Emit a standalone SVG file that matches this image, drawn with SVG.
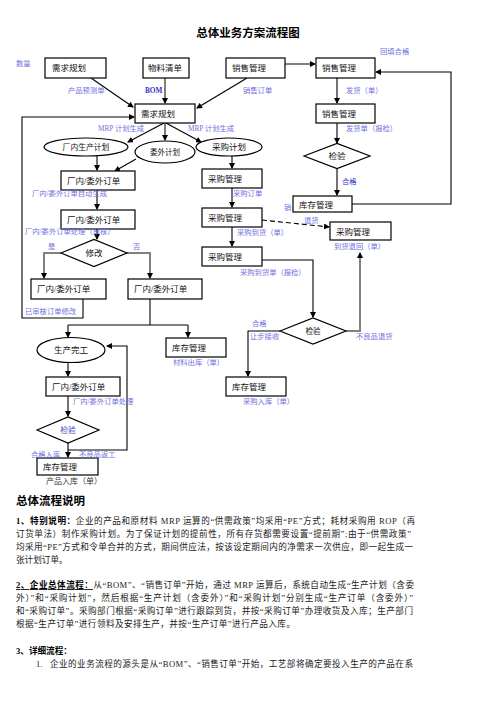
<svg xmlns="http://www.w3.org/2000/svg" width="496" height="702" viewBox="0 0 496 702">
<style>
text{font-family:"Liberation Serif","Noto Sans CJK SC",serif;}
.box{fill:#fff;stroke:#000;stroke-width:1.2;}
.nt{font-size:8.5px;fill:#111;}
.lb{font-size:7.3px;fill:#6f6fe0;}
.ln{fill:none;stroke:#000;stroke-width:1.1;}
.gl{fill:none;stroke:#808080;stroke-width:2;}
.ttl{font-size:11.5px;font-weight:bold;fill:#000;}
.p{font-size:8.6px;fill:#222;}
.b{font-weight:bold;fill:#000;}
</style>
<defs>
<marker id="a" markerWidth="6" markerHeight="6" refX="5" refY="3" orient="auto" markerUnits="userSpaceOnUse"><path d="M0,0 L6,3 L0,6 z" fill="#000"/></marker>
<marker id="g" markerWidth="6" markerHeight="6" refX="5" refY="3" orient="auto" markerUnits="userSpaceOnUse"><path d="M0,0 L6,3 L0,6 z" fill="#000"/></marker>
</defs>
<rect width="496" height="702" fill="#fff"/>
<text class="ttl" x="248" y="37" text-anchor="middle">总体业务方案流程图</text>

<g id="connectors">
<line class="ln" x1="91" y1="78" x2="133" y2="107" marker-end="url(#a)"/>
<line class="gl" x1="165" y1="78" x2="165" y2="103" marker-end="url(#g)"/>
<line class="ln" x1="247" y1="78" x2="197" y2="108" marker-end="url(#a)"/>
<line class="gl" x1="285" y1="64" x2="315" y2="64" marker-end="url(#g)"/>
<line class="ln" x1="337" y1="78" x2="337" y2="103" marker-end="url(#a)"/>
<line class="ln" x1="337" y1="123" x2="337" y2="143" marker-end="url(#a)"/>
<line class="ln" x1="337" y1="169" x2="337" y2="195" marker-end="url(#a)"/>
<polyline class="ln" points="352,204 451,204 451,72 376,72" marker-end="url(#a)"/>
<polyline class="ln" points="83,299 83,318 22,318 22,117 134,117" marker-end="url(#a)"/>
<line class="ln" x1="164" y1="123" x2="128" y2="142" marker-end="url(#a)"/>
<line class="gl" x1="165" y1="123" x2="165" y2="140" marker-end="url(#g)"/>
<line class="ln" x1="166" y1="123" x2="201" y2="142" marker-end="url(#a)"/>
<line class="ln" x1="97" y1="156" x2="97" y2="170" marker-end="url(#a)"/>
<line class="ln" x1="136" y1="159" x2="115" y2="171" marker-end="url(#a)"/>
<line class="ln" x1="232" y1="156" x2="232" y2="168" marker-end="url(#a)"/>
<line class="ln" x1="232" y1="188" x2="232" y2="207" marker-end="url(#a)"/>
<line class="ln" x1="97" y1="190" x2="97" y2="209" marker-end="url(#a)"/>
<line class="ln" x1="232" y1="227" x2="232" y2="246" marker-end="url(#a)"/>
<line class="ln" x1="262" y1="220" x2="329" y2="227" stroke-dasharray="5,3" marker-end="url(#a)"/>
<line class="ln" x1="97" y1="229" x2="97" y2="239" marker-end="url(#a)"/>
<polyline class="gl" points="61,253 44,253 44,278" marker-end="url(#g)"/>
<polyline class="gl" points="127,253 150,253 150,278" marker-end="url(#g)"/>
<polyline class="ln" points="262,260 313,260 313,317" marker-end="url(#a)"/>
<polyline class="ln" points="150,299 150,325"/>
<polyline class="ln" points="68,325 188,325"/>
<line class="ln" x1="68" y1="325" x2="68" y2="337" marker-end="url(#a)"/>
<line class="ln" x1="188" y1="325" x2="188" y2="337" marker-end="url(#a)"/>
<polyline class="ln" points="280,331 248,331 248,376" marker-end="url(#a)"/>
<polyline class="gl" points="346,331 360,331 360,253" marker-end="url(#g)"/>
<line class="ln" x1="68" y1="363" x2="68" y2="376" marker-end="url(#a)"/>
<line class="ln" x1="68" y1="396" x2="68" y2="416" marker-end="url(#a)"/>
<line class="ln" x1="68" y1="443" x2="68" y2="457" marker-end="url(#a)"/>
<polyline class="ln" points="68,450 127,450 127,346 107,346" marker-end="url(#a)"/>
</g>

<g id="n1"><rect class="box" x="45" y="58" width="61" height="20"/><text class="nt" x="52" y="71">需求规划</text></g>
<g id="n2"><rect class="box" x="143" y="58" width="46" height="20"/><text class="nt" x="148" y="71">物料清单</text></g>
<g id="n3"><rect class="box" x="226" y="58" width="59" height="20"/><text class="nt" x="232" y="71">销售管理</text></g>
<g id="n4"><rect class="box" x="316" y="58" width="59" height="20"/><text class="nt" x="322" y="71">销售管理</text></g>
<g id="n5"><rect class="box" x="135" y="104" width="60" height="19"/><text class="nt" x="141" y="117">需求规划</text></g>
<g id="n6"><rect class="box" x="316" y="104" width="59" height="19"/><text class="nt" x="322" y="117">销售管理</text></g>
<g id="n7"><polygon class="box" points="304,156 337,143.5 370,156 337,168.5"/><text class="nt" x="337" y="159" text-anchor="middle">检验</text></g>
<g id="n8"><ellipse class="box" cx="86" cy="147" rx="42" ry="9"/><text class="nt" x="86" y="150" text-anchor="middle" style="font-size:7.8px">厂内生产计划</text></g>
<g id="n9"><ellipse class="box" cx="165" cy="152" rx="30" ry="11"/><text class="nt" x="165" y="155" text-anchor="middle" style="font-size:7.5px">委外计划</text></g>
<g id="n10"><ellipse class="box" cx="229" cy="147" rx="33" ry="9"/><text class="nt" x="229" y="150" text-anchor="middle">采购计划</text></g>
<g id="n11"><rect class="box" x="61" y="171" width="74" height="19"/><text class="nt" x="67" y="184">厂内/委外订单</text></g>
<g id="n12"><rect class="box" x="202" y="169" width="60" height="19"/><text class="nt" x="208" y="182">采购管理</text></g>
<g id="n13"><rect class="box" x="293" y="196" width="59" height="16"/><text class="nt" x="299" y="207.5">库存管理</text></g>
<g id="n14"><rect class="box" x="61" y="210" width="74" height="19"/><text class="nt" x="67" y="223">厂内/委外订单</text></g>
<g id="n15"><rect class="box" x="202" y="208" width="60" height="19"/><text class="nt" x="208" y="221">采购管理</text></g>
<g id="n16"><rect class="box" x="330" y="222" width="61" height="18"/><text class="nt" x="336" y="234.5">采购管理</text></g>
<g id="n17"><polygon class="box" points="61,253 94,239.5 127,253 94,266.5"/><text class="nt" x="94" y="256" text-anchor="middle">修改</text></g>
<g id="n18"><rect class="box" x="202" y="247" width="60" height="19"/><text class="nt" x="208" y="260">采购管理</text></g>
<g id="n19"><rect class="box" x="31" y="279" width="75" height="20"/><text class="nt" x="37" y="292">厂内/委外订单</text></g>
<g id="n20"><rect class="box" x="128" y="279" width="74" height="20"/><text class="nt" x="134" y="292">厂内/委外订单</text></g>
<g id="n21"><polygon class="box" points="280,331 313,318 346,331 313,344"/><text class="nt" x="313" y="334" text-anchor="middle" style="font-size:7.5px">检验</text></g>
<g id="n22"><ellipse class="box" cx="71" cy="350" rx="34" ry="12.5"/><text class="nt" x="71" y="353" text-anchor="middle">生产完工</text></g>
<g id="n23"><rect class="box" x="166" y="338" width="60" height="19"/><text class="nt" x="172" y="351">库存管理</text></g>
<g id="n24"><rect class="box" x="46" y="377" width="74" height="19"/><text class="nt" x="52" y="390">厂内/委外订单</text></g>
<g id="n25"><rect class="box" x="226" y="377" width="60" height="19"/><text class="nt" x="232" y="390">库存管理</text></g>
<g id="n26"><polygon class="box" points="37,430 68,417 99,430 68,443"/><text class="nt" x="68" y="433" text-anchor="middle" style="fill:#4444cc;font-size:7.8px">检验</text></g>
<g id="n27"><rect class="box" x="37" y="458" width="61" height="17"/><text class="nt" x="43" y="470">库存管理</text></g>

<g id="labels">
<text class="lb" x="16" y="66">数量</text>
<text class="lb" x="68" y="93">产品预测单</text>
<text class="lb" x="145" y="93" style="fill:#3333cc;font-weight:bold">BOM</text>
<text class="lb" x="243" y="93">销售订单</text>
<text class="lb" x="380" y="54">回填合格</text>
<text class="lb" x="346" y="93">发货（单）</text>
<text class="lb" x="98" y="131">MRP 计划生成</text>
<text class="lb" x="188" y="131">MRP 计划生成</text>
<text class="lb" x="346" y="131">发货单（报检）</text>
<text class="lb" x="342" y="184" style="fill:#3333cc">合格</text>
<text class="lb" x="32" y="196">厂内/委外订单自动生成</text>
<text class="lb" x="233" y="196">采购订单</text>
<text class="lb" x="284" y="210">销</text>
<text class="lb" x="304" y="223">退货</text>
<text class="lb" x="237" y="235">采购到货（单）</text>
<text class="lb" x="25" y="234">厂内/委外订单处理（审核）</text>
<text class="lb" x="334" y="249">到货退回（单）</text>
<text class="lb" x="48" y="249">是</text>
<text class="lb" x="133" y="249">否</text>
<text class="lb" x="240" y="275">采购到货单（报检）</text>
<text class="lb" x="25" y="314">已审核订单修改</text>
<text class="lb" x="252" y="326">合格</text>
<text class="lb" x="250" y="339">让步接收</text>
<text class="lb" x="356" y="339">不良品退货</text>
<text class="lb" x="173" y="365">材料出库（单）</text>
<text class="lb" x="73" y="404">厂内/委外订单处理</text>
<text class="lb" x="243" y="404">采购入库（单）</text>
<text class="lb" x="31" y="457">合格入库</text>
<text class="lb" x="79" y="457">不良品返工</text>
<text class="lb" x="46" y="484" style="fill:#333;font-size:8px">产品入库（单）</text>
</g>

<g id="notes">
<text class="ttl" x="16" y="505">总体流程说明</text>
<text class="p" x="16" y="524" textLength="399" lengthAdjust="spacing"><tspan class="b">1、特别说明：</tspan>企业的产品和原材料 MRP 运算的“供需政策”均采用“PE”方式；耗材采购用 ROP（再</text>
<text class="p" x="16" y="537" textLength="395" lengthAdjust="spacing">订货单法）制作采购计划。为了保证计划的提前性，所有存货都需要设置“提前期”;由于“供需政策”</text>
<text class="p" x="16" y="550" textLength="397" lengthAdjust="spacing">均采用“PE”方式和令单合并的方式，期间供应法，按该设定期间内的净需求一次供应，即一起生成一</text>
<text class="p" x="16" y="563">张计划订单。</text>
<text class="p" x="16" y="588" textLength="398" lengthAdjust="spacing"><tspan class="b" text-decoration="underline">2、企业总体流程：</tspan>从“BOM”、“销售订单”开始，通过 MRP 运算后，系统自动生成“生产计划（含委</text>
<text class="p" x="16" y="601" textLength="397" lengthAdjust="spacing">外）”和“采购计划”，然后根据“生产计划（含委外）”和“采购计划”分别生成“生产订单（含委外）”</text>
<text class="p" x="16" y="614" textLength="397" lengthAdjust="spacing">和“采购订单”。采购部门根据“采购订单”进行跟踪到货，并按“采购订单”办理收货及入库；生产部门</text>
<text class="p" x="16" y="627" textLength="279" lengthAdjust="spacing">根据“生产订单”进行领料及安排生产，并按“生产订单”进行产品入库。</text>
<text class="p b" x="16" y="654">3、详细流程：</text>
<text class="p" x="36" y="667">1.</text>
<text class="p" x="50" y="667" textLength="363" lengthAdjust="spacing">企业的业务流程的源头是从“BOM”、“销售订单”开始，工艺部将确定要投入生产的产品在系</text>
</g>
</svg>
